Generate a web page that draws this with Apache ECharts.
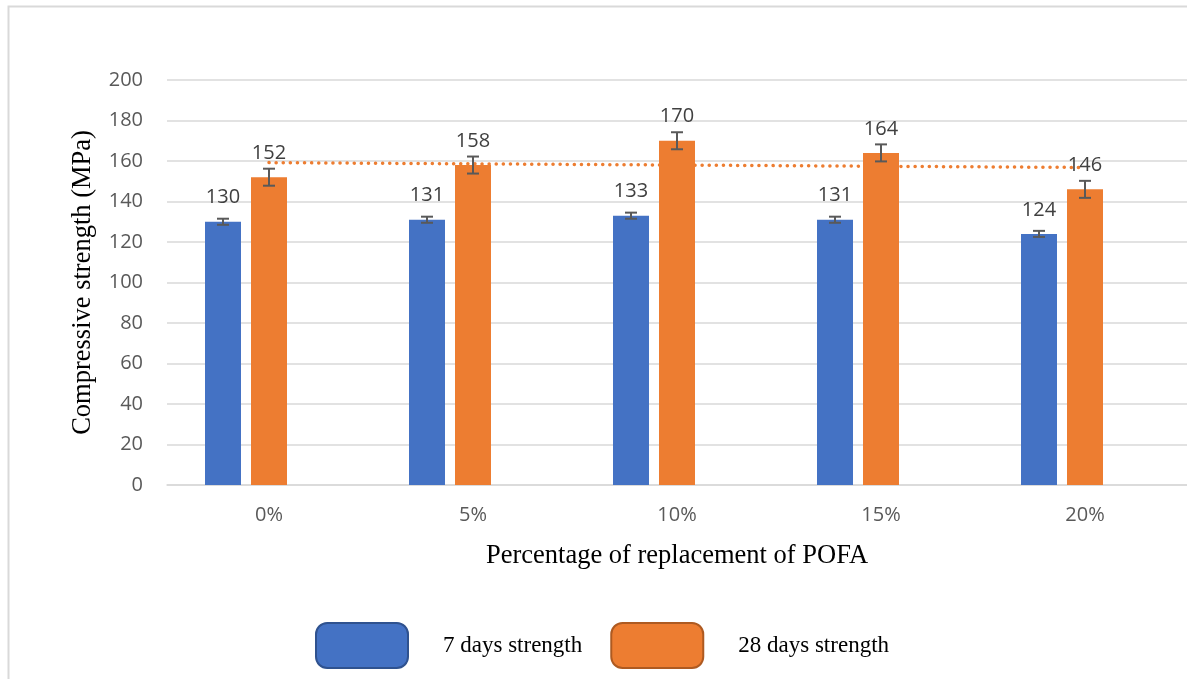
<!DOCTYPE html>
<html>
<head>
<meta charset="utf-8">
<script src="https://cdn.jsdelivr.net/npm/echarts@6/dist/echarts.min.js"></script>
<style>
html,body{margin:0;padding:0;background:#fff;}
#chart{width:1187px;height:679px;}
</style>
</head>
<body>
<div id="chart"></div>
<script>
const categories = ['0%', '5%', '10%', '15%', '20%'];
const strength7 = [130, 131, 133, 131, 124];
const strength28 = [152, 158, 170, 164, 146];
const err7 = [1.5, 1.5, 1.5, 1.5, 1.5];
const err28 = [4.2, 4.2, 4.2, 4.2, 4.2];
const yTicks = [0, 20, 40, 60, 80, 100, 120, 140, 160, 180, 200];
const seriesNames = ['7 days strength', '28 days strength'];

// linear trendline of the 28-day series (least squares)
function linearTrend(vals) {
  const n = vals.length;
  const xm = (n - 1) / 2;
  const ym = vals.reduce((a, b) => a + b, 0) / n;
  let sxy = 0, sxx = 0;
  vals.forEach((v, i) => { sxy += (i - xm) * (v - ym); sxx += (i - xm) * (i - xm); });
  const b = sxy / sxx;
  return vals.map((v, i) => +(ym + b * (i - xm)).toFixed(3));
}
const trend28 = linearTrend(strength28);

const BAR_W = 36, BAR_GAP = 10;
const BLUE = '#4472C4', ORANGE = '#ED7D31';

function errorItem(offset, errs) {
  return function (params, api) {
    const i = api.value(0);
    const v = api.value(1);
    const e = errs[params.dataIndex];
    const top = api.coord([i, v + e]);
    const bot = api.coord([i, v - e]);
    const x = top[0] + offset;
    const cap = 6;
    const style = { stroke: '#595959', lineWidth: 2 };
    return {
      type: 'group',
      children: [
        { type: 'line', shape: { x1: x, y1: top[1], x2: x, y2: bot[1] }, style },
        { type: 'line', shape: { x1: x - cap, y1: top[1], x2: x + cap, y2: top[1] }, style },
        { type: 'line', shape: { x1: x - cap, y1: bot[1], x2: x + cap, y2: bot[1] }, style }
      ]
    };
  };
}

const chart = echarts.init(document.getElementById('chart'));
const labelStyle = {
  show: true, position: 'top', distance: 14,
  fontFamily: 'Open Sans', fontSize: 20, color: '#404040'
};
chart.setOption({
  animation: false,
  backgroundColor: '#fff',
  graphic: [{
    type: 'rect', left: 6, top: 4, z: -1,
    shape: { width: 1200, height: 700 },
    style: { fill: 'none', stroke: '#d9d9d9', lineWidth: 2 }
  }],
  grid: { left: 167, width: 1027, top: 80, bottom: 194, containLabel: false },
  legend: {
    left: 310, top: 617,
    itemWidth: 92, itemHeight: 45, itemGap: 28,
    icon: 'roundRect',
    data: [
      { name: seriesNames[0], itemStyle: { color: BLUE, borderColor: '#2F528F', borderWidth: 2 } },
      { name: seriesNames[1], itemStyle: { color: ORANGE, borderColor: '#AE5A21', borderWidth: 2 } }
    ],
    textStyle: { fontFamily: 'Liberation Serif', fontSize: 23, color: '#000', padding: [0, 0, 0, 30] }
  },
  xAxis: {
    type: 'category', data: categories,
    axisLine: { show: true, lineStyle: { color: '#d9d9d9', width: 1.5 } },
    axisTick: { show: false },
    axisLabel: { fontFamily: 'Open Sans', fontSize: 20, color: '#595959', margin: 20 },
    name: 'Percentage of replacement of POFA',
    nameLocation: 'middle', nameGap: 58,
    nameTextStyle: { fontFamily: 'Liberation Serif', fontSize: 26.5, color: '#000' }
  },
  yAxis: {
    type: 'value', min: yTicks[0], max: yTicks[yTicks.length - 1], interval: 20,
    axisLine: { show: false }, axisTick: { show: false },
    splitLine: { lineStyle: { color: '#d9d9d9', width: 1.5 } },
    axisLabel: { fontFamily: 'Open Sans', fontSize: 20, color: '#595959', margin: 24 },
    name: 'Compressive strength (MPa)',
    nameLocation: 'middle', nameGap: 70,
    nameTextStyle: { fontFamily: 'Liberation Serif', fontSize: 26.5, color: '#000' }
  },
  series: [
    {
      name: seriesNames[0], type: 'bar', data: strength7,
      barWidth: BAR_W, barGap: (BAR_GAP / BAR_W * 100) + '%',
      itemStyle: { color: BLUE }, label: labelStyle, z: 2
    },
    {
      name: seriesNames[1], type: 'bar', data: strength28,
      barWidth: BAR_W,
      itemStyle: { color: ORANGE }, label: labelStyle, z: 2
    },
    {
      name: 'spacer', type: 'bar', data: categories.map(() => null),
      barWidth: BAR_W, silent: true
    },
    {
      name: 'trend28', type: 'line', data: trend28,
      showSymbol: false, symbol: 'none', silent: true,
      lineStyle: { color: ORANGE, width: 3.5, type: [0.1, 7], cap: 'round' }, z: 1
    },
    {
      name: 'err7', type: 'custom', silent: true, z: 5,
      data: strength7.map((v, i) => [i, v]),
      renderItem: errorItem(-(BAR_W + BAR_GAP), err7)
    },
    {
      name: 'err28', type: 'custom', silent: true, z: 5,
      data: strength28.map((v, i) => [i, v]),
      renderItem: errorItem(0, err28)
    }
  ]
});
</script>
</body>
</html>
